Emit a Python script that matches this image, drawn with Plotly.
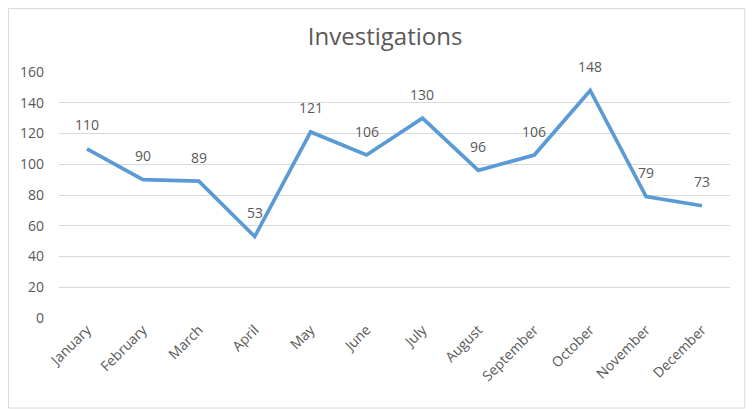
import plotly.graph_objects as go

months = ["January", "February", "March", "April", "May", "June", "July",
          "August", "September", "October", "November", "December"]
investigations = [110, 90, 89, 53, 121, 106, 130, 96, 106, 148, 79, 73]
y_ticks = [0, 20, 40, 60, 80, 100, 120, 140, 160]

GREY = "#595959"
FONT = "Open Sans"

fig = go.Figure()
fig.add_trace(go.Scatter(
    x=months, y=investigations, mode="lines",
    line=dict(color="#5B9BD5", width=3.7),
    hoverinfo="x+y",
))

for m, v in zip(months, investigations):
    fig.add_annotation(x=m, y=v, text=str(v), showarrow=False, yshift=24,
                       font=dict(family=FONT, size=14, color=GREY))

fig.add_shape(type="rect", xref="paper", yref="paper",
              x0=-0.0753, x1=1.022, y0=-0.366, y1=1.258,
              line=dict(color="#d9d9d9", width=1), fillcolor="rgba(0,0,0,0)")

fig.update_layout(
    width=747, height=401,
    margin=dict(l=51, r=25, t=64, b=91),
    paper_bgcolor="white", plot_bgcolor="white",
    showlegend=False,
    title=dict(text="Investigations", x=0.486, xref="paper", xanchor="center",
               y=0.928, yanchor="middle",
               font=dict(family=FONT, size=24, color=GREY)),
    font=dict(family=FONT, color=GREY),
)
fig.update_xaxes(type="category", range=[-0.5, len(months) - 0.5],
                 tickangle=-45, showgrid=False, showline=False, zeroline=False,
                 tickfont=dict(family=FONT, size=14, color=GREY), ticks="")
fig.update_yaxes(range=[0, 160], tickvals=y_ticks, showgrid=True, gridcolor="#d9d9d9",
                 gridwidth=1, zeroline=False, showline=False, ticks="",
                 ticklabelstandoff=14,
                 tickfont=dict(family=FONT, size=14, color=GREY))

fig.write_html("out.html")
